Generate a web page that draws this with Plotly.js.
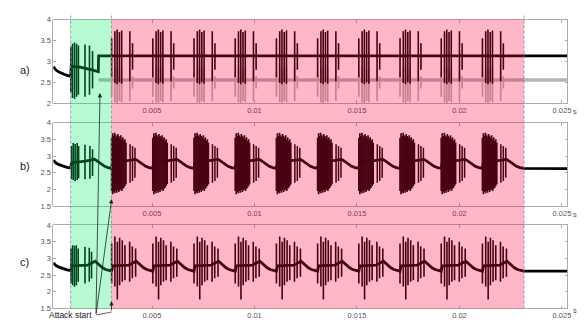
<!DOCTYPE html>
<html>
<head>
<meta charset="utf-8">
<script src="https://cdn.plot.ly/plotly-3.0.1.min.js"></script>
<style>
  html, body { margin: 0; padding: 0; background: #fff; }
  #chart { width: 584px; height: 322px; }
</style>
</head>
<body>
<div id="chart"></div>
<script>
// ---- time base (s) ----
const tStart = 0.000185;
const tEnd = 0.02527;
const greenWindow = [0.00103, 0.00302];
const redWindow = [0.00302, 0.02315];
// onset of every burst: the first one falls in the green window, the others in the red one
const burstStarts = [0.00103, 0.00303, 0.00504, 0.00705, 0.00906, 0.01107, 0.01308, 0.01509, 0.01710, 0.01911, 0.02112];

const xTickVals = [0.005, 0.01, 0.015, 0.02, 0.025];
const xTickText = ['0.005', '0.01', '0.015', '0.02', '0.025'];
const yTickValsA = [2, 2.5, 3, 3.5, 4];
const yTickTextA = ['2', '2.5', '3', '3.5', '4'];
const yTickValsBC = [1.5, 2, 2.5, 3, 3.5, 4];
const yTickTextBC = ['1.5', '2', '2.5', '3', '3.5', '4'];

// resting decay before the first burst (same in all three records)
const restT = [0.000185, 0.000317, 0.000463, 0.000659, 0.000854, 0.001034];
const restV = [2.87, 2.79, 2.74, 2.69, 2.66, 2.64];

// ---- record a) ----
const aPreT = [0.00106, 0.00149, 0.00188, 0.00212, 0.00238];
const aPreV = [2.88, 2.86, 2.82, 2.79, 2.75];
const aJumpT = 0.002395;
const aHigh = 3.13;
const aLow = 2.55;
const aGreenOff = [0.00001, 0.00009, 0.00019, 0.00029, 0.00038, 0.0007, 0.00092, 0.00107];
const aGreenTop = [3.35, 3.42, 3.45, 3.42, 3.38, 3.40, 3.38, 3.25];
const aGreenBot = [2.25, 2.12, 2.10, 2.15, 2.20, 2.15, 2.20, 2.35];
const aSpikeOff = [0, 0.00016, 0.00027, 0.00038, 0.00049, 0.00089, 0.00102];
const aSpikeTop = [3.55, 3.72, 3.76, 3.70, 3.74, 3.72, 3.43];
const aSpikeBot = [2.62, 2.48, 2.45, 2.50, 2.46, 2.52, 2.80];
const aEchoTop = [2.75, 2.85, 2.85, 2.80, 2.85, 2.80, 2.65];
const aEchoBot = [2.15, 2.02, 2.00, 2.05, 2.02, 2.05, 2.35];

// ---- record b) ----
const bGreenOff = [0.00005, 0.00013, 0.00022, 0.00032, 0.00039, 0.0007, 0.00094, 0.00107];
const bGreenTop = [3.30, 3.39, 3.36, 3.39, 3.30, 3.34, 3.30, 3.20];
const bGreenBot = [2.30, 2.28, 2.25, 2.28, 2.33, 2.30, 2.32, 2.40];
const bBlockOff = [0, 0.00005, 0.0001, 0.00015, 0.0002, 0.00025, 0.0003, 0.00035, 0.0004, 0.00045, 0.0005, 0.00055, 0.0006, 0.00065, 0.0007];
const bBlockTop = [3.55, 3.68, 3.60, 3.70, 3.62, 3.58, 3.66, 3.60, 3.55, 3.62, 3.50, 3.56, 3.45, 3.50, 3.40];
const bBlockBot = [1.95, 1.85, 1.92, 1.88, 1.95, 1.90, 1.98, 1.92, 1.97, 2.00, 1.95, 2.02, 2.05, 2.10, 2.15];
const bTailOff = [0.0009, 0.00102, 0.00114];
const bTailTop = [3.35, 3.30, 3.25];
const bTailBot = [2.20, 2.25, 2.35];
const bDecayOff = [0, 0.000049, 0.00073, 0.00117, 0.00127, 0.00139, 0.00151, 0.00166, 0.00183, 0.00201];
const bDecayV = [2.63, 2.80, 2.85, 2.90, 2.86, 2.80, 2.74, 2.69, 2.65, 2.63];
const bRest = 2.62;

// ---- record c) ----
const cGreenOff = [0.00002, 0.0001, 0.00019, 0.00028, 0.00037, 0.0007, 0.00091, 0.00102];
const cGreenTop = [3.30, 3.40, 3.38, 3.40, 3.30, 3.35, 3.32, 3.20];
const cGreenBot = [2.25, 2.20, 2.15, 2.20, 2.30, 2.25, 2.30, 2.40];
const cSpikeOff = [0, 0.00016, 0.00028, 0.00039, 0.00052, 0.00065, 0.00088, 0.00101, 0.00117];
const cSpikeTop = [3.45, 3.66, 3.50, 3.62, 3.55, 3.40, 3.50, 3.36, 3.30];
const cSpikeBot = [2.25, 2.16, 1.77, 2.20, 2.30, 2.35, 2.30, 2.41, 2.45];
const cDecayOff = [0, 0.000049, 0.00083, 0.0012, 0.00132, 0.00144, 0.00156, 0.00171, 0.00185, 0.00201];
const cDecayV = [2.62, 2.78, 2.80, 2.92, 2.85, 2.78, 2.72, 2.67, 2.64, 2.62];
const cRest = 2.62;

// ---- helpers ----
// vertical spike segments for a list of burst onsets
function spikeSegments(starts, off, top, bot) {
  const x = [], y = [];
  starts.forEach(s => {
    off.forEach((o, i) => {
      x.push(s + o, s + o, null);
      y.push(bot[i], top[i], null);
    });
  });
  return { x, y };
}
// slow membrane trace: resting decay, then the per-burst recovery curve, then rest
function baseline(decOff, decV, rest) {
  const x = restT.slice(), y = restV.slice();
  burstStarts.forEach(s => {
    decOff.forEach((o, i) => { x.push(s + o); y.push(decV[i]); });
  });
  x.push(tEnd); y.push(rest);
  return { x, y };
}

const INK = '#000000';
const ECHO = '#b4b4b4';
const traces = [];
function addLine(xy, xa, ya, color, width) {
  traces.push({ x: xy.x, y: xy.y, xaxis: xa, yaxis: ya, type: 'scatter', mode: 'lines',
    line: { color: color, width: width }, hoverinfo: 'skip', showlegend: false, connectgaps: false });
}

// record a)
const redBursts = burstStarts.slice(1);
const firstBurst = burstStarts.slice(0, 1);
addLine({ x: [aJumpT, tEnd], y: [aLow, aLow] }, 'x', 'y', ECHO, 3.5);
addLine(spikeSegments(redBursts, aSpikeOff, aEchoTop, aEchoBot), 'x', 'y', ECHO, 1.7);
addLine({ x: restT.concat(aPreT, [aJumpT, tEnd]), y: restV.concat(aPreV, [aHigh, aHigh]) }, 'x', 'y', INK, 2.8);
addLine(spikeSegments(firstBurst, aGreenOff, aGreenTop, aGreenBot), 'x', 'y', INK, 1.6);
addLine(spikeSegments(redBursts, aSpikeOff, aSpikeTop, aSpikeBot), 'x', 'y', INK, 1.6);

// record b)
addLine(baseline(bDecayOff, bDecayV, bRest), 'x2', 'y2', INK, 2.8);
addLine(spikeSegments(firstBurst, bGreenOff, bGreenTop, bGreenBot), 'x2', 'y2', INK, 1.6);
addLine(spikeSegments(redBursts, bBlockOff, bBlockTop, bBlockBot), 'x2', 'y2', INK, 1.7);
addLine(spikeSegments(redBursts, bTailOff, bTailTop, bTailBot), 'x2', 'y2', INK, 1.5);

// record c)
addLine(baseline(cDecayOff, cDecayV, cRest), 'x3', 'y3', INK, 2.8);
addLine(spikeSegments(firstBurst, cGreenOff, cGreenTop, cGreenBot), 'x3', 'y3', INK, 1.6);
addLine(spikeSegments(redBursts, cSpikeOff, cSpikeTop, cSpikeBot), 'x3', 'y3', INK, 1.6);

// ---- layout ----
const W = 584, H = 322;
const px = v => v / W;
const py = v => 1 - v / H;
const xDomain = [px(53.3), px(567.5)];
const frame = '#9a9a9a';
const tickFont = { family: 'Liberation Sans, Arial, sans-serif', size: 7.5, color: '#555555' };

function xAxis(anchor) {
  return { domain: xDomain, range: [tStart, tEnd], anchor: anchor, showgrid: false, zeroline: false,
    showline: true, linecolor: frame, linewidth: 0.8, mirror: 'allticks', ticks: 'inside', ticklen: 3,
    tickwidth: 0.8, tickcolor: frame, tickmode: 'array', tickvals: xTickVals, ticktext: xTickText,
    tickfont: tickFont, fixedrange: true };
}
function yAxis(anchor, dom, range, vals, text) {
  return { domain: dom, range: range, anchor: anchor, showgrid: false, zeroline: false,
    showline: true, linecolor: frame, linewidth: 0.8, mirror: 'allticks', ticks: 'inside', ticklen: 3,
    tickwidth: 0.8, tickcolor: frame, tickmode: 'array', tickvals: vals, ticktext: text,
    tickfont: tickFont, fixedrange: true };
}

const bandTop = py(19.6), bandBottom = py(308.5);
const shapes = [
  { type: 'rect', xref: 'x', yref: 'paper', x0: greenWindow[0], x1: greenWindow[1], y0: bandBottom, y1: bandTop,
    fillcolor: 'rgb(0,238,100)', opacity: 0.29, line: { width: 0 }, layer: 'above' },
  { type: 'rect', xref: 'x', yref: 'paper', x0: redWindow[0], x1: redWindow[1], y0: bandBottom, y1: bandTop,
    fillcolor: 'rgb(255,3,58)', opacity: 0.29, line: { width: 0 }, layer: 'above' }
];
[greenWindow[0], redWindow[0], redWindow[1]].forEach(t => {
  shapes.push({ type: 'line', xref: 'x', yref: 'paper', x0: t, x1: t, y0: bandBottom, y1: py(13.3),
    line: { color: '#8c8c8c', width: 0.8, dash: '3px,2px' }, layer: 'above' });
});
// bracket from the caption to the third arrow
shapes.push({ type: 'line', xref: 'paper', yref: 'paper', x0: px(96), y0: py(315), x1: px(111.5), y1: py(312),
  line: { color: '#222', width: 0.7 }, layer: 'above' });

const labelFont = { family: 'Liberation Sans, Arial, sans-serif', size: 11, color: '#222' };
const annotations = [
  { text: 'a)', x: px(17.7), y: py(62), xref: 'paper', yref: 'paper', showarrow: false, font: labelFont },
  { text: 'b)', x: px(17.7), y: py(165.7), xref: 'paper', yref: 'paper', showarrow: false, font: labelFont },
  { text: 'c)', x: px(17.7), y: py(270), xref: 'paper', yref: 'paper', showarrow: false, font: labelFont },
  { text: 'Attack start', x: px(46.5), y: py(322), xref: 'paper', yref: 'paper', xanchor: 'left', yanchor: 'bottom',
    showarrow: false, font: { family: 'Liberation Sans, Arial, sans-serif', size: 8.5, color: '#222' } },
  { text: 's', x: px(579), y: py(111.5), xref: 'paper', yref: 'paper', showarrow: false, font: tickFont },
  { text: 's', x: px(579), y: py(214), xref: 'paper', yref: 'paper', showarrow: false, font: tickFont },
  { text: 's', x: px(579), y: py(317.3), xref: 'paper', yref: 'paper', showarrow: false, font: tickFont }
];
const arrowStyle = { showarrow: true, arrowhead: 2, arrowsize: 1.1, arrowwidth: 0.8, arrowcolor: '#222',
  xref: 'paper', yref: 'paper', text: '', axref: 'pixel', ayref: 'pixel' };
annotations.push(Object.assign({ x: px(100), y: py(93), ax: -4, ay: 222 }, arrowStyle));
annotations.push(Object.assign({ x: px(111.7), y: py(199), ax: -15.7, ay: 116 }, arrowStyle));
annotations.push(Object.assign({ x: px(111.5), y: py(301), ax: 0, ay: 11 }, arrowStyle));

const layout = {
  width: W, height: H, margin: { l: 0, r: 0, t: 0, b: 0 },
  paper_bgcolor: '#fff', plot_bgcolor: '#fff', showlegend: false,
  xaxis: xAxis('y'), xaxis2: xAxis('y2'), xaxis3: xAxis('y3'),
  yaxis: yAxis('x', [py(103), py(19.6)], [2, 4], yTickValsA, yTickTextA),
  yaxis2: yAxis('x2', [py(206), py(122.7)], [1.5, 4], yTickValsBC, yTickTextBC),
  yaxis3: yAxis('x3', [py(308.5), py(225.2)], [1.5, 4], yTickValsBC, yTickTextBC),
  shapes: shapes, annotations: annotations
};

Plotly.newPlot('chart', traces, layout, { staticPlot: true, displayModeBar: false });
</script>
</body>
</html>
